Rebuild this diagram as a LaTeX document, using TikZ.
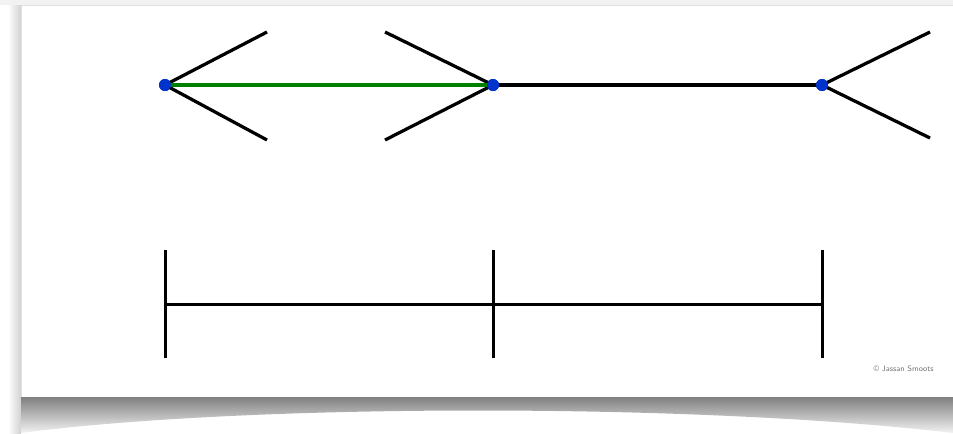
\documentclass[tikz,border=0pt]{standalone}
\tikzset{
  kline/.style={line width=0.065cm, black},
  kgreen/.style={kline, draw=green!50!black},
  kdot/.style={circle, fill=blue!75!cyan!80!black, inner sep=0pt, minimum size=0.24cm},
  kbar/.style={line width=0.06cm, black},
  credit/.style={font=\sffamily\fontsize{4.5}{5}\selectfont, text=black!55, anchor=east, inner sep=0pt},
}
\begin{document}
\begin{tikzpicture}[x=0.02cm, y=-0.02cm]
    \useasboundingbox (0,0) rectangle (953,433);
    % card and its shadows
    \fill[black!5] (0,0) rectangle (953,5);
    \shade[left color=white, right color=black!18] (8,5) rectangle (21,433);
    \shade[top color=black!50, bottom color=black!5]
      (21,397) -- (953,397) -- (953,433) .. controls (700,403) and (250,403) .. (21,433) -- cycle;
    \fill[white] (21,5) rectangle (953,397);
    \draw[black!12, line width=0.3pt] (21,397) -- (21,5) -- (953,5);
    % top row
    \node[kdot] (p1) at (165,85) {};
    \node[kdot] (p2) at (493,85) {};
    \node[kdot] (p3) at (822,85) {};
    \coordinate (a1) at (267,32);
    \coordinate (a2) at (267,140);
    \coordinate (b1) at (385,32);
    \coordinate (b2) at (385,140);
    \coordinate (c1) at (930,32);
    \coordinate (c2) at (930,138);
    \draw[kline] (p1.center) -- (a1);
    \draw[kline] (p1.center) -- (a2);
    \draw[kline] (b1) -- (p2.center);
    \draw[kline] (b2) -- (p2.center);
    \draw[kline] (p3.center) -- (c1);
    \draw[kline] (p3.center) -- (c2);
    \draw[kgreen] (p1.center) -- (p2.center);
    \draw[kline] (p2.center) -- (p3.center);
    \node[kdot] at (p1) {};
    \node[kdot] at (p2) {};
    \node[kdot] at (p3) {};
    % bottom row
    \coordinate (m1) at (165,304);
    \coordinate (m3) at (822,304);
    \coordinate (t1) at (165,250); \coordinate (u1) at (165,358);
    \coordinate (t2) at (493,250); \coordinate (u2) at (493,358);
    \coordinate (t3) at (822,250); \coordinate (u3) at (822,358);
    \draw[kbar] (m1) -- (m3);
    \foreach \i in {1,2,3} {
      \draw[kbar] (t\i) -- (u\i);
    }
    \node[credit] (credit) at (934,369) {\textcopyright\ Jassan Smoots};
\end{tikzpicture}
\end{document}
